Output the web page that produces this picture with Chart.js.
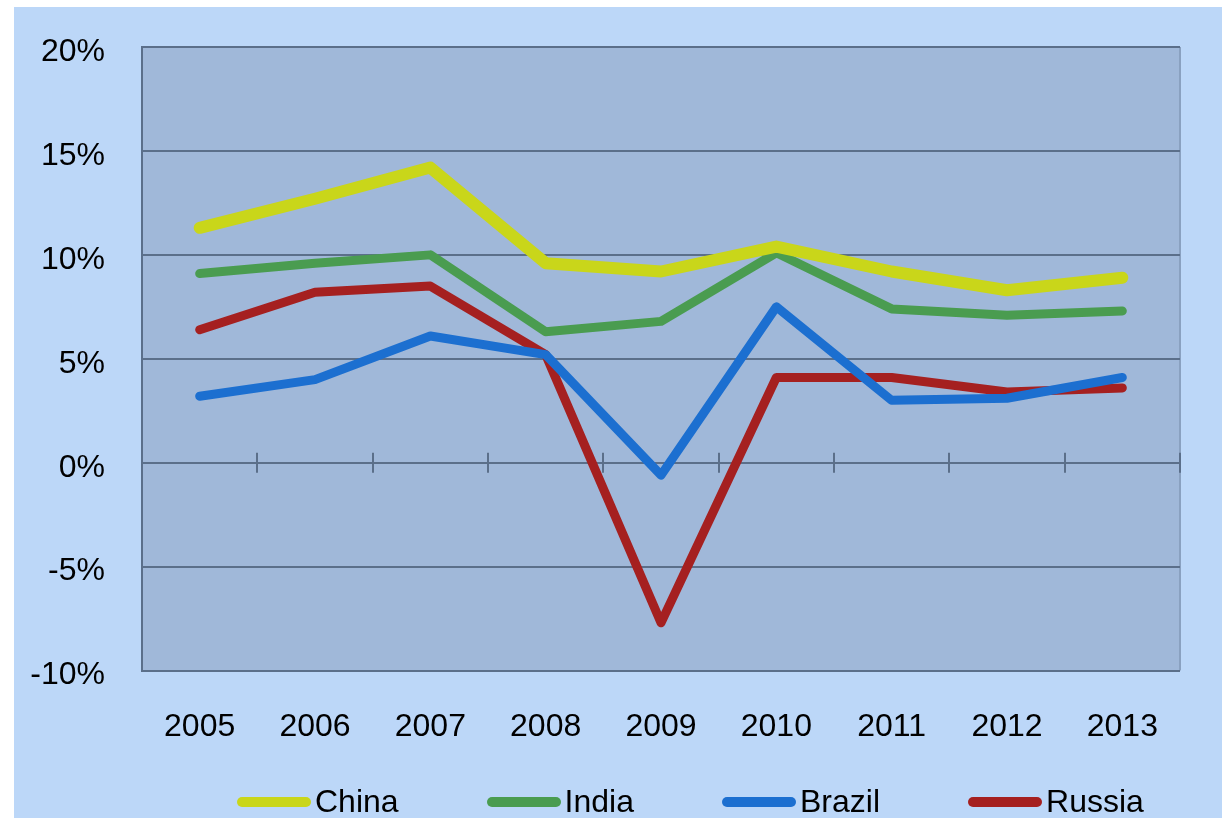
<!DOCTYPE html>
<html>
<head>
<meta charset="utf-8">
<title>GDP growth</title>
<script src="https://cdn.jsdelivr.net/npm/chart.js@4"></script>
<style>
  body { margin: 0; background: #ffffff; }
  #wrap {
    position: absolute; left: 14px; top: 7px;
    width: 1208px; height: 811px;
    background: #bcd7f8; overflow: hidden;
  }
  #legend {
    position: absolute; left: 223px; top: 776px;
    display: flex; gap: 88px;
    font-family: "Liberation Sans", Arial, sans-serif; font-size: 32px; color: #000;
  }
  .item { display: flex; align-items: center; }
  .swatch { width: 74px; height: 10px; border-radius: 5px; margin-right: 4px; }
</style>
</head>
<body>
<div id="wrap">
  <canvas id="growthChart" width="1208" height="811"></canvas>
  <div id="legend"></div>
</div>
<script>
const years = ['2005', '2006', '2007', '2008', '2009', '2010', '2011', '2012', '2013'];
const china = [11.3, 12.7, 14.2, 9.6, 9.2, 10.4, 9.2, 8.3, 8.9];
const india = [9.1, 9.6, 10.0, 6.3, 6.8, 10.1, 7.4, 7.1, 7.3];
const brazil = [3.2, 4.0, 6.1, 5.2, -0.6, 7.5, 3.0, 3.1, 4.1];
const russia = [6.4, 8.2, 8.5, 5.2, -7.7, 4.1, 4.1, 3.4, 3.6];
const yTicks = [-10, -5, 0, 5, 10, 15, 20];

const gridColor = '#5b6f8a';

// plot area fill + small cross ticks on the 0% line
const plotArea = {
  id: 'plotArea',
  beforeDraw(chart) {
    const { ctx, chartArea: a } = chart;
    ctx.save();
    ctx.fillStyle = '#a0b8d9';
    ctx.fillRect(a.left, a.top, a.right - a.left, a.bottom - a.top);
    ctx.strokeStyle = '#8aa1c0';
    ctx.lineWidth = 2;
    ctx.beginPath();
    ctx.moveTo(a.right, a.top);
    ctx.lineTo(a.right, a.bottom);
    ctx.stroke();
    ctx.restore();
  },
  beforeDatasetsDraw(chart) {
    const { ctx, scales: { x, y } } = chart;
    const y0 = y.getPixelForValue(0);
    ctx.save();
    ctx.strokeStyle = gridColor;
    ctx.lineWidth = 2;
    ctx.beginPath();
    for (let i = 1; i <= years.length; i++) {
      const px = Math.round(x.getPixelForValue(i - 0.5));
      ctx.moveTo(px, y0 - 10);
      ctx.lineTo(px, y0 + 10);
    }
    ctx.stroke();
    ctx.restore();
  }
};

const ctx = document.getElementById('growthChart').getContext('2d');
const growthChart = new Chart(ctx, {
  type: 'line',
  data: {
    labels: years,
    datasets: [
      { label: 'China', data: china, borderColor: '#c9d61a', borderWidth: 12 },
      { label: 'India', data: india, borderColor: '#4a9c50', borderWidth: 9 },
      { label: 'Brazil', data: brazil, borderColor: '#1c6fd0', borderWidth: 9 },
      { label: 'Russia', data: russia, borderColor: '#a52020', borderWidth: 9 }
    ]
  },
  options: {
    responsive: false,
    animation: false,
    devicePixelRatio: 1,
    layout: { padding: { top: 40, right: 42, bottom: 43, left: 0 } },
    elements: {
      line: { tension: 0, borderCapStyle: 'round', borderJoinStyle: 'round', fill: false },
      point: { radius: 0 }
    },
    plugins: {
      legend: { display: false },
      tooltip: { enabled: false }
    },
    scales: {
      x: {
        offset: true,
        grid: { display: false },
        border: { display: false },
        ticks: {
          color: '#000',
          padding: 29,
          font: { family: '"Liberation Sans", Arial, sans-serif', size: 32 }
        }
      },
      y: {
        min: yTicks[0],
        max: yTicks[yTicks.length - 1],
        afterBuildTicks(scale) {
          scale.ticks = yTicks.map(v => ({ value: v }));
        },
        afterFit(scale) {
          // fixed axis width; labels may hang outside the plot vertically
          scale.width = 128;
          scale.paddingTop = 0;
          scale.paddingBottom = 0;
        },
        grid: { color: gridColor, lineWidth: 2, drawTicks: false },
        border: { display: true, color: gridColor, width: 2 },
        ticks: {
          color: '#000',
          padding: 37,
          labelOffset: 5,
          font: { family: '"Liberation Sans", Arial, sans-serif', size: 32 },
          callback: v => v + '%'
        }
      }
    }
  },
  plugins: [plotArea]
});

// legend built from the chart's datasets
const legendBox = document.getElementById('legend');
growthChart.data.datasets.forEach(ds => {
  const item = document.createElement('div');
  item.className = 'item';
  item.innerHTML = `<span class="swatch" style="background:${ds.borderColor}"></span><span>${ds.label}</span>`;
  legendBox.appendChild(item);
});
</script>
</body>
</html>
